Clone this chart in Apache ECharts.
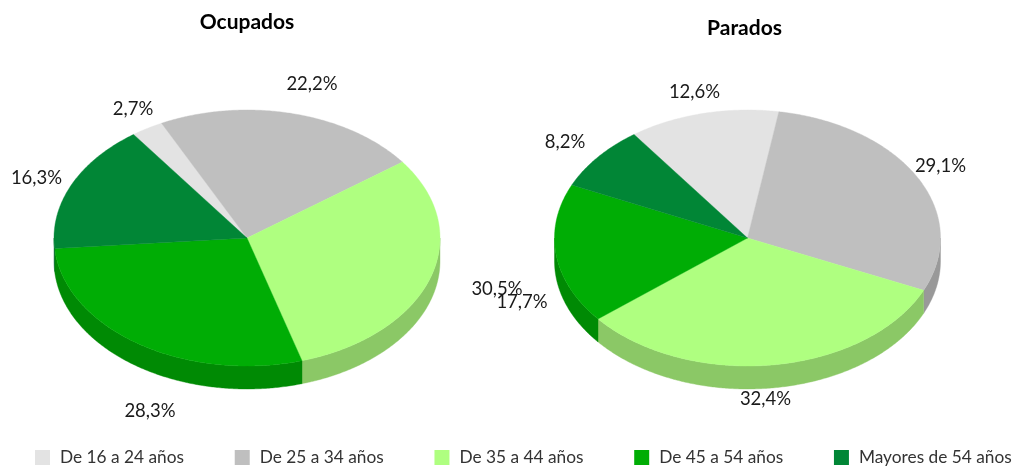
<!DOCTYPE html>
<html>
<head>
<meta charset="utf-8">
<style>html,body{margin:0;padding:0;background:#fff}#c{width:1016px;height:466px}</style>
<script src="https://cdn.jsdelivr.net/npm/echarts@6/dist/echarts.min.js"></script>
</head>
<body>
<div id="c"></div>
<script>
const categories = ['De 16 a 24 años','De 25 a 34 años','De 35 a 44 años','De 45 a 54 años','Mayores de 54 años'];
const pieNames = ['Ocupados','Parados'];
const ocupados = [2.7,22.2,30.5,28.3,16.3];
const parados = [12.6,29.1,32.4,17.7,8.2];

const topColors = ['#E3E3E3','#BFBFBF','#AFFF80','#00AD05','#018636'];
const wallColors = ['#B6B6B6','#999999','#8BC866','#008A04','#016B2B'];
const FONT = 'Lato';
const pieLayout = [
  {cx:247, cy:238, rx:193, ry:128, depth:23},
  {cx:747.5, cy:238, rx:193, ry:128, depth:23}
];
const firstSliceAngle = -36;
// label centres, by pie then category
const labelAnchors = [
  [[133,109],[312,84],[497,289],[150,411],[36.5,178.5]],
  [[694.5,92.5],[940.5,166.5],[765.5,399.5],[522,302],[565,142]]
];

const pieValues = [ocupados, parados];
function startOf(values, i){
  let s = 0;
  for (let k = 0; k < i; k++) s += values[k];
  return s;
}
function rimPoint(p, deg, drop){
  const a = deg * Math.PI / 180;
  return [p.cx + p.rx * Math.sin(a), p.cy - p.ry * Math.cos(a) + drop];
}
function arc(p, from, to, drop){
  const pts = [];
  const n = Math.max(2, Math.ceil(Math.abs(to - from) * 2));
  for (let i = 0; i <= n; i++) pts.push(rimPoint(p, from + (to - from) * i / n, drop));
  return pts;
}
function renderSlice(catIndex){
  return function(params, api){
    const pieIndex = api.value(0), value = api.value(1), before = api.value(2);
    const p = pieLayout[pieIndex];
    const a0 = firstSliceAngle + before * 3.6;
    const a1 = a0 + value * 3.6;
    const children = [];
    const w0 = Math.max(a0, 90), w1 = Math.min(a1, 270);
    if (w1 > w0) {
      const points = arc(p, w0, w1, 0).concat(arc(p, w1, w0, p.depth));
      children.push({type:'polygon', shape:{points},
        style:{fill:wallColors[catIndex], stroke:wallColors[catIndex], lineWidth:0.4}});
    }
    children.push({type:'polygon', shape:{points:[[p.cx,p.cy]].concat(arc(p,a0,a1,0))},
      style:{fill:topColors[catIndex], stroke:topColors[catIndex], lineWidth:0.4}});
    const lab = labelAnchors[pieIndex][catIndex];
    children.push({type:'text', z2:50, style:{
      x:lab[0], y:lab[1], text:value.toFixed(1).replace('.',',') + '%',
      align:'center', verticalAlign:'middle', fill:'#1a1a1a', font:'18.5px ' + FONT
    }});
    return {type:'group', children};
  };
}

const series = categories.map((name, c) => ({
  name,
  type:'custom',
  coordinateSystem:'none',
  itemStyle:{color:topColors[c]},
  silent:true,
  animation:false,
  renderItem:renderSlice(c),
  data:pieValues.map((vals, pi) => [pi, vals[c], startOf(vals, c)])
}));

const chart = echarts.init(document.getElementById('c'), null, {renderer:'canvas'});
chart.setOption({
  animation:false,
  backgroundColor:'#fff',
  title:[
    {text:pieNames[0], left:247, top:12, padding:0, textAlign:'center',
     textStyle:{fontFamily:FONT, fontWeight:'bold', fontSize:21, color:'#000'}},
    {text:pieNames[1], left:744.5, top:18, padding:0, textAlign:'center',
     textStyle:{fontFamily:FONT, fontWeight:'bold', fontSize:21, color:'#000'}}
  ],
  legend:{
    data:categories, left:35, top:449, width:981, icon:'rect', itemWidth:15, itemHeight:15,
    itemGap:50.7, padding:0,
    textStyle:{fontFamily:FONT, fontSize:17.3, color:'#333', padding:[0,0,0,5]}
  },
  series
});
</script>
</body>
</html>
